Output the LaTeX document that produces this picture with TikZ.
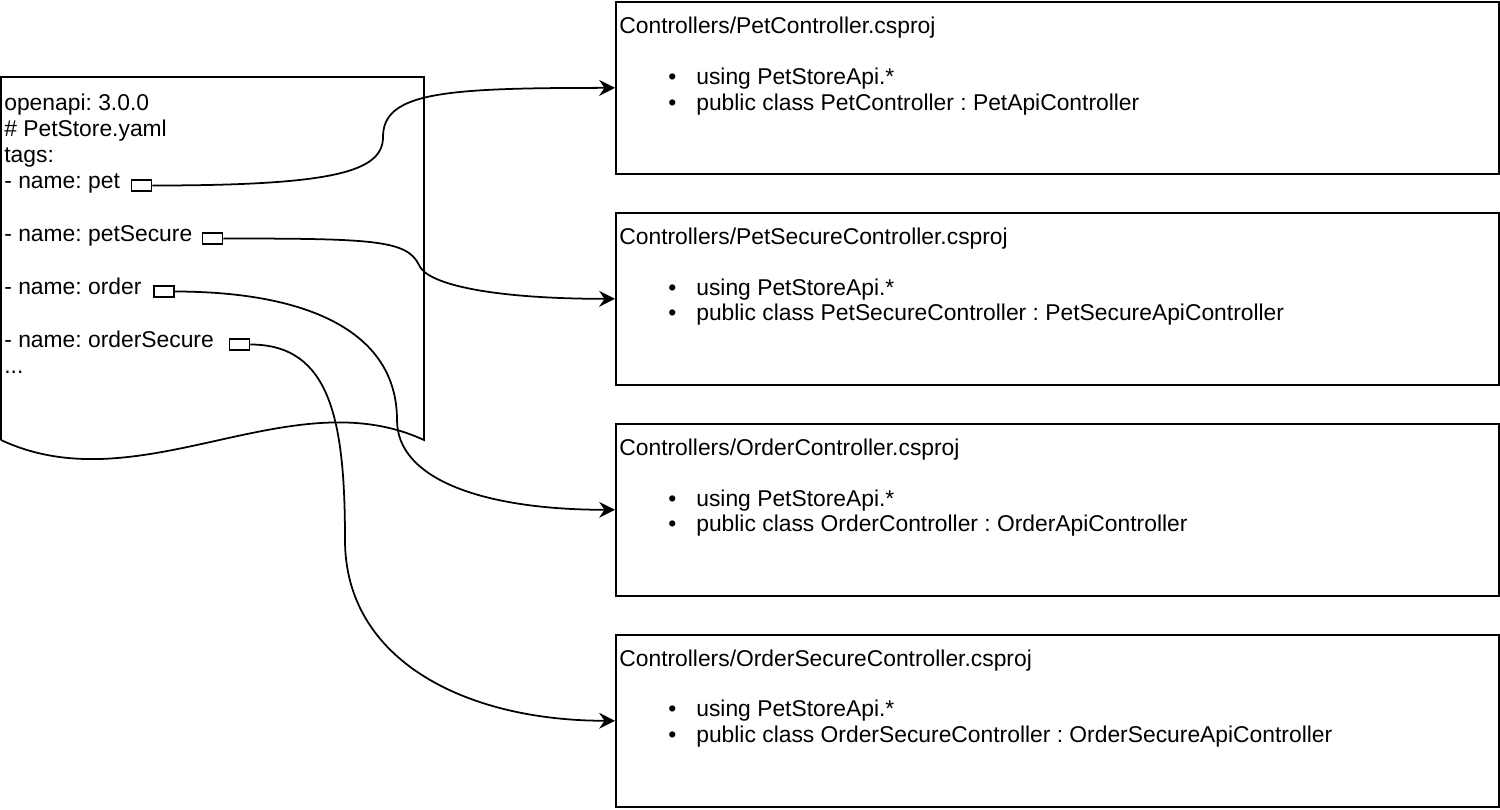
\documentclass[tikz,border=0pt]{standalone}
\usepackage{fontspec}
\setmainfont{Liberation Sans}
\usepackage{tikz}
\usetikzlibrary{arrows.meta, positioning}
\newcommand{\bul}{\hspace*{0.98cm}\makebox[0.56cm][l]{\textbullet}}
\tikzset{
    myarrow/.style={line width=1pt, -{Stealth[length=9pt, width=9pt, inset=3pt]}},
    doc/.style={draw, line width=1pt},
    ctrl/.style={draw, rectangle, line width=1pt, minimum width=17.66cm, minimum height=3.44cm, anchor=north west},
    txt/.style={inner sep=0pt, anchor=base west, align=left, font=\fontsize{13pt}{14.75pt}\selectfont\frenchspacing},
    port/.style={draw, rectangle, line width=1pt, minimum width=0.4cm, minimum height=0.22cm, inner sep=0pt, fill=white}
}

\begin{document}
\begin{tikzpicture}[x=0.02cm, y=-0.02cm]
    \useasboundingbox (0,0) rectangle (1500,809);
    % PetStore.yaml
    \draw [doc] (1,440) -- (1,77) -- (424,77) -- (424,440) .. controls (290,378) and (140,505) .. (1,440);
    \node (head) [txt] at (4,162) {openapi: 3.0.0\\\# PetStore.yaml\\tags:};
    \node (tPet) [txt] at (4,188) {- name: pet};
    \node (tPS) [txt] at (4,241) {- name: petSecure};
    \node (tOrd) [txt] at (4,294) {- name: order};
    \node (tOS) [txt] at (4,347) {- name: orderSecure};
    \node (tDots) [txt] at (4,373) {...};
    \node (pPet) [port, right=0.21cm of tPet.base east, yshift=0.05cm] {};
    \node (pPS) [port, right=0.18cm of tPS.base east, yshift=0.05cm] {};
    \node (pOrd) [port, right=0.22cm of tOrd.base east, yshift=0.05cm] {};
    \node (pOS) [port, right=0.29cm of tOS.base east, yshift=0.05cm] {};

    % controllers (text anchored at its last line)
    \node (cPet) [ctrl] at (615,1) {};
    \node (cPS) [ctrl, below=0.745cm of cPet] {};
    \node (cOrd) [ctrl, below=0.745cm of cPS] {};
    \node (cOS) [ctrl, below=0.745cm of cOrd] {};
    \node [txt] at ([shift={(4,109)}]cPet.north west) {Controllers/PetController.csproj\\[0.49cm]
        \bul using PetStoreApi.*\\
        \bul public class PetController : PetApiController};
    \node [txt] at ([shift={(4,109)}]cPS.north west) {Controllers/PetSecureController.csproj\\[0.49cm]
        \bul using PetStoreApi.*\\
        \bul public class PetSecureController : PetSecureApiController};
    \node [txt] at ([shift={(4,109)}]cOrd.north west) {Controllers/OrderController.csproj\\[0.49cm]
        \bul using PetStoreApi.*\\
        \bul public class OrderController : OrderApiController};
    \node [txt] at ([shift={(4,109)}]cOS.north west) {Controllers/OrderSecureController.csproj\\[0.49cm]
        \bul using PetStoreApi.*\\
        \bul public class OrderSecureController : OrderSecureApiController};

    % links
    \coordinate (w1) at (383,137);
    \coordinate (w2) at (419,265);
    \coordinate (w3) at (397,420);
    \coordinate (w4) at (345,540);
    \draw [myarrow] (pPet.east) .. controls +(180,0) and +(0,35) .. (w1) .. controls +(0,-45) and +(-170,0) .. (cPet.west);
    \draw [myarrow] (pPS.east) .. controls +(150,0) and +(-12,-25) .. (w2) .. controls +(8,20) and +(-120,0) .. (cPS.west);
    \draw [myarrow] (pOrd.east) .. controls +(130,0) and +(0,-90) .. (w3) .. controls +(0,60) and +(-130,0) .. (cOrd.west);
    \draw [myarrow] (pOS.east) .. controls +(80,0) and +(0,-120) .. (w4) .. controls +(0,120) and +(-150,0) .. (cOS.west);
\end{tikzpicture}
\end{document}
